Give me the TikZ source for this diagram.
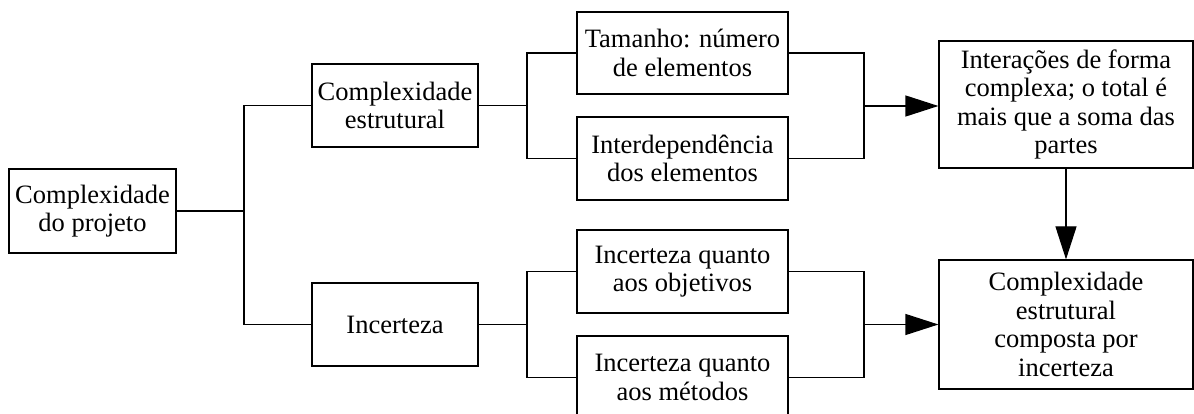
\documentclass[tikz,border=0pt]{standalone}
\usepackage{fontspec}
\setmainfont{Liberation Serif}
\usetikzlibrary{arrows.meta}

\tikzset{box/.style={draw,line width=1.2pt,align=center,inner sep=0pt,
    font=\fontsize{26.5}{28.5}\selectfont},
  link/.style={line width=1.2pt},
  arr/.style={line width=1.2pt,-{Triangle[length=33pt,width=21pt]}}}

\begin{document}
\begin{tikzpicture}[x=1pt,y=-1pt]
  \useasboundingbox (0,0) rectangle (1194,414);
   \draw (92.5,211) node[box,minimum width=167pt,minimum height=84pt] (projeto) {Complexidade\\do projeto};
    \draw (395,105.5) node[box,minimum width=166pt,minimum height=83pt] (estrutural) {Complexidade\\estrutural};
    \draw (395,324.5) node[box,minimum width=166pt,minimum height=83pt] (incerteza) {Incerteza};
  \draw (682.5,53) node[box,minimum width=211pt,minimum height=82pt] (tamanho) {Tamanho: número\\de elementos};
  \draw (682.5,158.5) node[box,minimum width=211pt,minimum height=83pt] (interdep) {Interdependência\\dos elementos};
  \draw (682.5,271.5) node[box,minimum width=211pt,minimum height=83pt] (objetivos) {Incerteza quanto\\aos objetivos};
  \draw (682.5,383.5) node[box,minimum width=211pt,minimum height=95pt,text depth=12pt] (metodos) {Incerteza quanto\\aos métodos};
      \draw (1066,104.5) node[box,minimum width=254pt,minimum height=127pt] (interacoes) {Interações de forma\\complexa; o total é\\mais que a soma das\\partes};
      \draw (1066,324.5) node[box,minimum width=254pt,minimum height=129pt] (composta) {Complexidade\\estrutural\\composta por\\incerteza};

  \coordinate (b1) at (244,211);
  \coordinate (b2) at (527,105.5);
  \coordinate (b3) at (527,324.5);
  \coordinate (b4) at (864,106);
  \coordinate (b5) at (864,324.5);
  \coordinate (m) at (682.5,377.5);

       \path[link] (projeto) edge (b1);
       \draw[link] (estrutural.west) -| (b1) |- (incerteza.west);
       \path[link] (estrutural) edge (b2);
       \draw[link] (tamanho.west) -| (b2) |- (interdep.west);
       \path[link] (incerteza) edge (b3);
       \draw[link] (objetivos.west) -| (b3) |- (metodos.west |- m);
       \draw[link] (tamanho.east) -| (b4) |- (interdep.east);
       \draw[link] (objetivos.east) -| (b5) |- (metodos.east |- m);
        \draw[arr] (b4) -- (interacoes.west |- b4);
        \draw[arr] (b5) -- (composta.west |- b5);
        \draw[arr] (interacoes.south) -- (composta.north);
\end{tikzpicture}
\end{document}
